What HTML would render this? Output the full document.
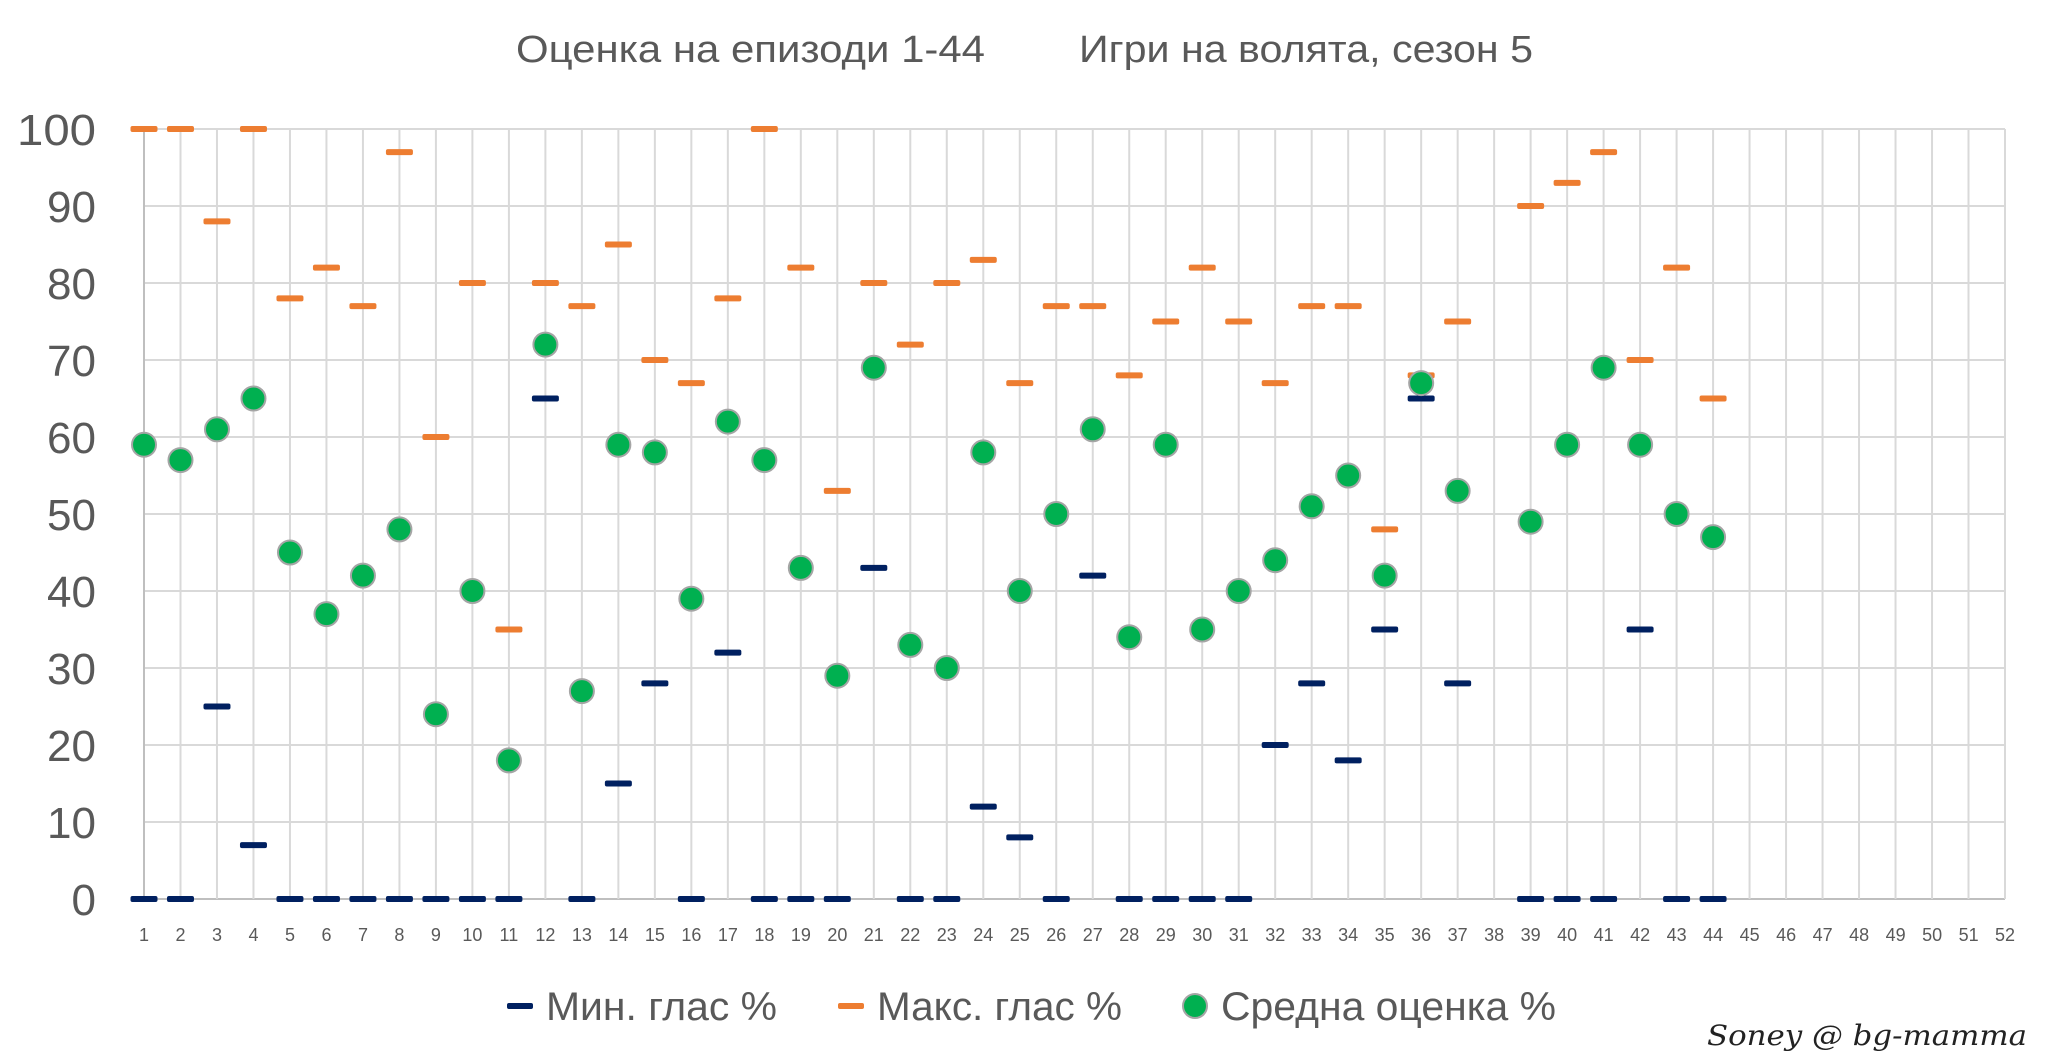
<!DOCTYPE html>
<html><head><meta charset="utf-8"><style>
html,body{margin:0;padding:0;background:#fff;}
svg{display:block;font-family:"Liberation Sans","DejaVu Sans",sans-serif;}
</style></head><body>
<svg id="s" width="2048" height="1055" viewBox="0 0 2048 1055" xmlns="http://www.w3.org/2000/svg">
<rect width="2048" height="1055" fill="#fff"/>
<g id="grid"></g>
<text x="516" y="62" font-size="38" fill="#595959" textLength="469" lengthAdjust="spacingAndGlyphs">Оценка на епизоди 1-44</text>
<text x="1079" y="62" font-size="38" fill="#595959" textLength="454" lengthAdjust="spacingAndGlyphs">Игри на волята, сезон 5</text>
<g font-size="44" fill="#595959" text-anchor="end">
<text x="96" y="145" textLength="79" lengthAdjust="spacingAndGlyphs">100</text><text x="96" y="222">90</text><text x="96" y="299">80</text>
<text x="96" y="376">70</text><text x="96" y="453">60</text><text x="96" y="530">50</text>
<text x="96" y="607">40</text><text x="96" y="684">30</text><text x="96" y="761">20</text>
<text x="96" y="838">10</text><text x="96" y="915">0</text>
</g>
<g font-size="18" fill="#595959" text-anchor="middle">
<text x="144.0" y="941">1</text><text x="180.5" y="941">2</text><text x="217.0" y="941">3</text><text x="253.5" y="941">4</text><text x="290.0" y="941">5</text><text x="326.5" y="941">6</text><text x="363.0" y="941">7</text><text x="399.4" y="941">8</text><text x="435.9" y="941">9</text><text x="472.4" y="941">10</text><text x="508.9" y="941">11</text><text x="545.4" y="941">12</text><text x="581.9" y="941">13</text><text x="618.4" y="941">14</text><text x="654.9" y="941">15</text><text x="691.4" y="941">16</text><text x="727.9" y="941">17</text><text x="764.4" y="941">18</text><text x="800.9" y="941">19</text><text x="837.4" y="941">20</text><text x="873.8" y="941">21</text><text x="910.3" y="941">22</text><text x="946.8" y="941">23</text><text x="983.3" y="941">24</text><text x="1019.8" y="941">25</text><text x="1056.3" y="941">26</text><text x="1092.8" y="941">27</text><text x="1129.3" y="941">28</text><text x="1165.8" y="941">29</text><text x="1202.3" y="941">30</text><text x="1238.8" y="941">31</text><text x="1275.3" y="941">32</text><text x="1311.7" y="941">33</text><text x="1348.2" y="941">34</text><text x="1384.7" y="941">35</text><text x="1421.2" y="941">36</text><text x="1457.7" y="941">37</text><text x="1494.2" y="941">38</text><text x="1530.7" y="941">39</text><text x="1567.2" y="941">40</text><text x="1603.7" y="941">41</text><text x="1640.2" y="941">42</text><text x="1676.7" y="941">43</text><text x="1713.2" y="941">44</text><text x="1749.6" y="941">45</text><text x="1786.1" y="941">46</text><text x="1822.6" y="941">47</text><text x="1859.1" y="941">48</text><text x="1895.6" y="941">49</text><text x="1932.1" y="941">50</text><text x="1968.6" y="941">51</text><text x="2005.0" y="941">52</text>
</g>
<g id="data"></g>
<rect x="507" y="1003" width="26" height="6" rx="2" fill="#002060"/>
<text x="546" y="1020" font-size="40" fill="#595959" textLength="231" lengthAdjust="spacingAndGlyphs">Мин. глас %</text>
<rect x="838" y="1003" width="26" height="6" rx="2" fill="#ed7d31"/>
<text x="877" y="1020" font-size="40" fill="#595959" textLength="245" lengthAdjust="spacingAndGlyphs">Макс. глас %</text>
<circle cx="1195" cy="1006" r="12" fill="#00b050" stroke="#a5a5a5" stroke-width="2"/>
<text x="1221" y="1020" font-size="40" fill="#595959" textLength="335" lengthAdjust="spacingAndGlyphs">Средна оценка %</text>
<text x="1707" y="1045" font-size="28" font-style="italic" fill="#222" font-family="'DejaVu Serif',serif" textLength="320" lengthAdjust="spacingAndGlyphs">Soney @ bg-mamma</text>
</svg>
<script>
var NS="http://www.w3.org/2000/svg",x0=144,dx=(2005-144)/51,y0=899,py=7.7;
function el(p,t,a){var e=document.createElementNS(NS,t);for(var k in a)e.setAttribute(k,a[k]);p.appendChild(e);return e;}
var g=document.getElementById("grid");
for(var i=0;i<=10;i++){var y=y0-i*10*py;el(g,"line",{x1:x0,x2:2005,y1:y,y2:y,stroke:i==0?"#bfbfbf":"#d9d9d9","stroke-width":2});}
for(var i=0;i<52;i++){var x=x0+i*dx;el(g,"line",{x1:x,x2:x,y1:129,y2:y0,stroke:i==0?"#bfbfbf":"#d9d9d9","stroke-width":2});}
var mn=[0,0,25,7,0,0,0,0,0,0,0,65,0,15,28,0,32,0,0,0,43,0,0,12,8,0,42,0,0,0,0,20,28,18,35,65,28,null,0,0,0,35,0,0];
var mx=[100,100,88,100,78,82,77,97,60,80,35,80,77,85,70,67,78,100,82,53,80,72,80,83,67,77,77,68,75,82,75,67,77,77,48,68,75,null,90,93,97,70,82,65];
var av=[59,57,61,65,45,37,42,48,24,40,18,72,27,59,58,39,62,57,43,29,69,33,30,58,40,50,61,34,59,35,40,44,51,55,42,67,53,null,49,59,69,59,50,47];
var d=document.getElementById("data");
function dash(v,i,c){if(v==null)return;el(d,"rect",{x:x0+i*dx-13.5,y:y0-v*py-3,width:27,height:6,rx:2,fill:c});}
for(var i=0;i<44;i++){dash(mn[i],i,"#002060");}
for(var i=0;i<44;i++){dash(mx[i],i,"#ed7d31");}
for(var i=0;i<44;i++){if(av[i]!=null)el(d,"circle",{cx:x0+i*dx,cy:y0-av[i]*py,r:12,fill:"#00b050",stroke:"#a5a5a5","stroke-width":2});}
</script>
</body></html>
